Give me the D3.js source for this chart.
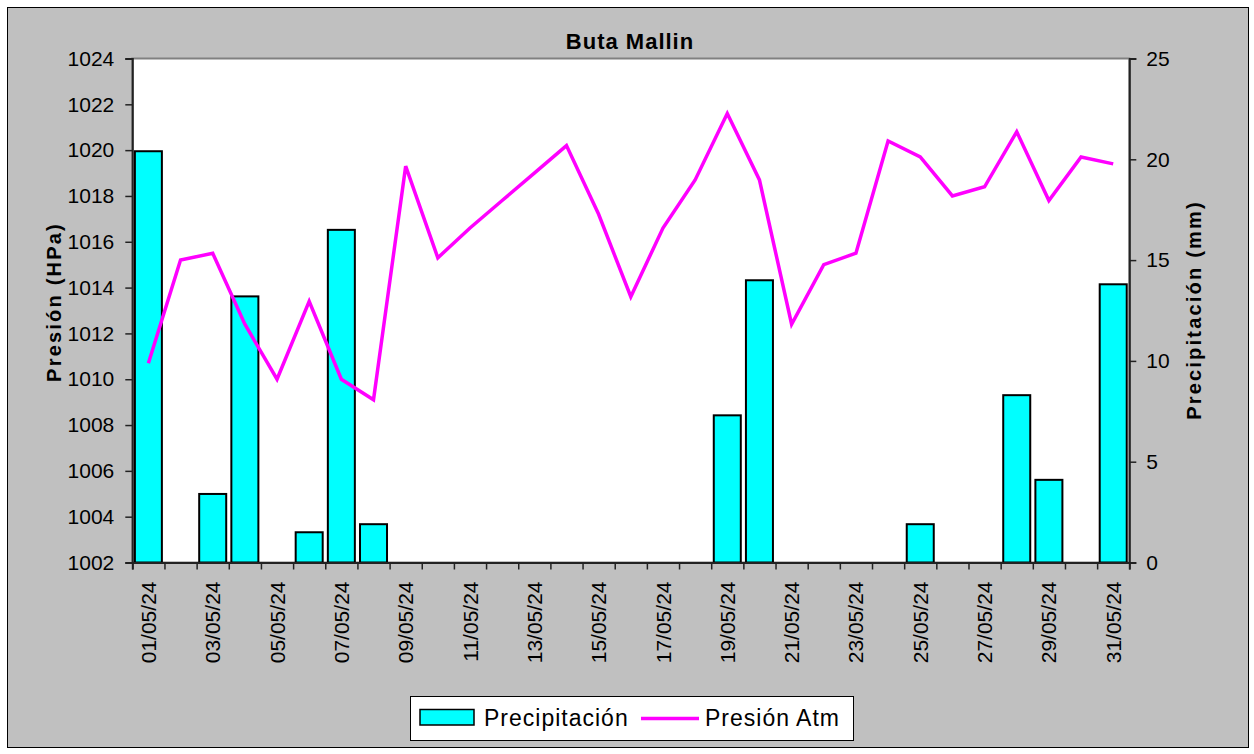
<!DOCTYPE html>
<html lang="es">
<head>
<meta charset="UTF-8">
<title>Buta Mallin</title>
<script src="https://cdn.jsdelivr.net/npm/d3@7"></script>
<style>
    body{ margin:0; background:#fff; }
    .tick text{ font-family:'Liberation Sans', Arial, sans-serif; font-size:21px; fill:#000; }
    .titulo{ font-family:'Liberation Sans', Arial, sans-serif; font-weight:700; font-size:22px; letter-spacing:1px; }
    .ejeTitulo{ font-family:'Liberation Sans', Arial, sans-serif; font-weight:700; font-size:20px; letter-spacing:2.2px; }
    .leyenda{ font-family:'Liberation Sans', Arial, sans-serif; font-size:23px; letter-spacing:1px; }
</style>
</head>
<body>
<div id="grafico"></div>
<script>
// datos
var fechas = ["01/05/24","02/05/24","03/05/24","04/05/24","05/05/24","06/05/24","07/05/24","08/05/24",
    "09/05/24","10/05/24","11/05/24","12/05/24","13/05/24","14/05/24","15/05/24","16/05/24",
    "17/05/24","18/05/24","19/05/24","20/05/24","21/05/24","22/05/24","23/05/24","24/05/24",
    "25/05/24","26/05/24","27/05/24","28/05/24","29/05/24","30/05/24","31/05/24"];
var precipitacion = [20.4, 0, 3.4, 13.2, 0, 1.5, 16.5, 1.9, 0, 0, 0, 0, 0, 0, 0, 0,
    0, 0, 7.3, 14.0, 0, 0, 0, 0, 1.9, 0, 0, 8.3, 4.1, 0, 13.8];
var presion = [1010.7, 1015.2, 1015.5, 1012.4, 1010.0, 1013.4, 1010.0, 1009.1, 1019.3, 1015.3,
    1016.6, 1017.8, 1019.0, 1020.2, 1017.2, 1013.6, 1016.6, 1018.7, 1021.6, 1018.7,
    1012.4, 1015.0, 1015.5, 1020.4, 1019.7, 1018.0, 1018.4, 1020.8, 1017.8, 1019.7, 1019.4];
var ticksPresion = [1002, 1004, 1006, 1008, 1010, 1012, 1014, 1016, 1018, 1020, 1022, 1024];
var ticksPrecip = [0, 5, 10, 15, 20, 25];

var w = 1254, h = 754;
var izq = 132.3, der = 1129.3, arriba = 58.5, abajo = 562.5;

var svg = d3.select("#grafico").append("svg")
    .attr("width", w).attr("height", h);

// fondo gris y marco
svg.append("rect").attr("x", 0).attr("y", 0).attr("width", w).attr("height", h).attr("fill", "#fff");
svg.append("rect").attr("x", 7.5).attr("y", 7.5).attr("width", 1241).attr("height", 740)
    .attr("fill", "#c0c0c0").attr("stroke", "#000").attr("stroke-width", 1);

// area de trazado
svg.append("rect").attr("x", izq).attr("y", arriba).attr("width", der - izq).attr("height", abajo - arriba)
    .attr("fill", "#fff").attr("stroke", "#808080").attr("stroke-width", 2);

var x = d3.scaleBand().domain(fechas).range([izq, der]).paddingInner(0.16).paddingOuter(0.08);
var yPres = d3.scaleLinear().domain([1002, 1024]).range([abajo, arriba]);
var yPrec = d3.scaleLinear().domain([0, 25]).range([abajo, arriba]);

// barras
svg.selectAll(".barra").data(precipitacion).enter().append("rect")
    .attr("class", "barra")
    .attr("x", function(d, i){ return x(fechas[i]); })
    .attr("width", x.bandwidth())
    .attr("y", function(d){ return yPrec(d); })
    .attr("height", function(d){ return abajo - yPrec(d); })
    .attr("fill", "#00ffff").attr("stroke", "#000").attr("stroke-width", 2)
    .style("display", function(d){ return d > 0 ? null : "none"; });

// linea presion
var linea = d3.line()
    .x(function(d, i){ return x(fechas[i]) + x.bandwidth() / 2; })
    .y(function(d){ return yPres(d); });
svg.append("path").datum(presion).attr("d", linea)
    .attr("fill", "none").attr("stroke", "#ff00ff").attr("stroke-width", 3.5)
    .attr("stroke-linejoin", "miter");

// eje izquierdo
var ejeIzq = svg.append("g").attr("transform", "translate(" + izq + ",0)")
    .call(d3.axisLeft(yPres).tickValues(ticksPresion).tickSize(7).tickPadding(11).tickFormat(d3.format("d")));
ejeIzq.select(".domain").attr("stroke", "#222").attr("stroke-width", 2);
ejeIzq.selectAll(".tick line").attr("stroke", "#222").attr("stroke-width", 1.5);

// eje derecho
var ejeDer = svg.append("g").attr("transform", "translate(" + der + ",0)")
    .call(d3.axisRight(yPrec).tickValues(ticksPrecip).tickSize(7).tickPadding(10));
ejeDer.select(".domain").attr("stroke", "#222").attr("stroke-width", 2);
ejeDer.selectAll(".tick line").attr("stroke", "#222").attr("stroke-width", 1.5);

// eje inferior: marcas en los limites de cada dia
var limites = d3.range(fechas.length + 1);
var xLim = d3.scaleLinear().domain([0, fechas.length]).range([izq, der]);
var ejeAbajo = svg.append("g").attr("transform", "translate(0," + abajo + ")")
    .call(d3.axisBottom(xLim).tickValues(limites).tickSize(7).tickFormat(""));
ejeAbajo.select(".domain").attr("stroke", "#222").attr("stroke-width", 2);
ejeAbajo.selectAll(".tick line").attr("stroke", "#222").attr("stroke-width", 1.5);

var etiquetas = svg.append("g").attr("transform", "translate(0," + abajo + ")")
    .call(d3.axisBottom(x).tickValues(fechas.filter(function(d, i){ return i % 2 === 0; })).tickSize(0));
etiquetas.select(".domain").remove();
etiquetas.selectAll(".tick text")
    .attr("transform", "rotate(-90)")
    .attr("text-anchor", "end")
    .attr("x", -19).attr("y", 0).attr("dy", "0.36em");

// titulos
svg.append("text").attr("class", "titulo").attr("x", 630).attr("y", 48.5)
    .attr("text-anchor", "middle").text("Buta Mallin");
svg.append("text").attr("class", "ejeTitulo")
    .attr("transform", "translate(61,302) rotate(-90)")
    .attr("text-anchor", "middle").text("Presión (HPa)");
svg.append("text").attr("class", "ejeTitulo")
    .attr("transform", "translate(1201,310) rotate(-90)")
    .attr("text-anchor", "middle").text("Precipitación (mm)");

// leyenda
var ley = svg.append("g");
ley.append("rect").attr("x", 410.5).attr("y", 696.5).attr("width", 443).attr("height", 44)
    .attr("fill", "#fff").attr("stroke", "#000").attr("stroke-width", 1);
ley.append("rect").attr("x", 420).attr("y", 709.5).attr("width", 54).attr("height", 15.5)
    .attr("fill", "#00ffff").attr("stroke", "#000").attr("stroke-width", 1.5);
ley.append("text").attr("class", "leyenda").attr("x", 484).attr("y", 726).text("Precipitación");
ley.append("line").attr("x1", 641).attr("x2", 699).attr("y1", 718.5).attr("y2", 718.5)
    .attr("stroke", "#ff00ff").attr("stroke-width", 3.5);
ley.append("text").attr("class", "leyenda").attr("x", 705).attr("y", 726).text("Presión Atm");
</script>
</body>
</html>
